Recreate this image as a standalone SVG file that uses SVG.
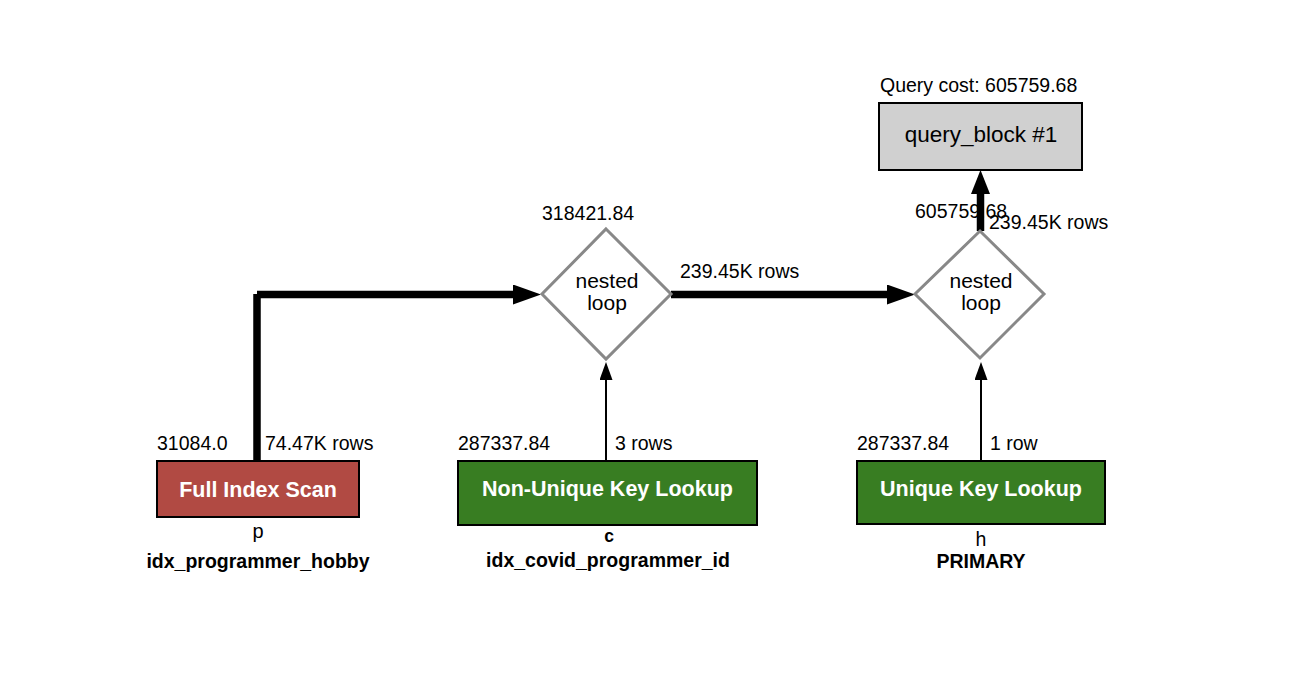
<svg xmlns="http://www.w3.org/2000/svg" width="1292" height="696" viewBox="0 0 1292 696">
<style>
text{font-family:"Liberation Sans",Arial,Helvetica,sans-serif;fill:#000}
.lbl{font-size:19.5px}
.node{font-size:21.5px;font-weight:bold;fill:#fff}
.dia{font-size:21px}
.qb{font-size:22.5px}
.idx{font-size:19.5px;font-weight:bold}
.box{stroke:#000;stroke-width:2}
.diamond{fill:#fff;stroke:#888;stroke-width:3}
.thick{fill:none;stroke:#000;stroke-width:7.5;stroke-linecap:butt}
.thin{fill:none;stroke:#000;stroke-width:2}
</style>
<defs>
<marker id="ah" viewBox="0 0 28 20" refX="0" refY="10" markerWidth="28" markerHeight="20" markerUnits="userSpaceOnUse" orient="auto"><path d="M0,0 L28,10 L0,20 z" fill="#000"/></marker>
<marker id="ahv" viewBox="0 0 24 19" refX="0" refY="9.5" markerWidth="24" markerHeight="19" markerUnits="userSpaceOnUse" orient="auto"><path d="M0,0 L24,9.5 L0,19 z" fill="#000"/></marker>
<marker id="as" viewBox="0 0 18 13" refX="0" refY="6.5" markerWidth="18" markerHeight="13" markerUnits="userSpaceOnUse" orient="auto"><path d="M0,0 L18,6.5 L0,13 z" fill="#000"/></marker>
</defs>
<rect width="1292" height="696" fill="#fff"/>
<g id="connectors">
<path class="thick" d="M257,461 V294 M257,294.5 H513" marker-end="url(#ah)"/>
<path class="thick" d="M671,294.5 H887" marker-end="url(#ah)"/>
<path class="thick" d="M980.5,231 V194" marker-end="url(#ahv)"/>
<path class="thin" d="M606,461 V380" marker-end="url(#as)"/>
<path class="thin" d="M981,461 V380" marker-end="url(#as)"/>
<text class="lbl" x="265" y="450">74.47K rows</text>
<text class="lbl" x="615" y="450">3 rows</text>
<text class="lbl" x="990" y="450">1 row</text>
<text class="lbl" x="680" y="278">239.45K rows</text>
<text class="lbl" x="989" y="229">239.45K rows</text>
</g>
<g id="query_block">
<text class="lbl" x="880" y="92">Query cost: 605759.68</text>
<rect class="box" x="879" y="103" width="203" height="67" fill="#d0d0d0"/>
<text class="qb" x="981" y="142" text-anchor="middle">query_block #1</text>
</g>
<g id="nested_loop_1">
<text class="lbl" x="542" y="220">318421.84</text>
<polygon class="diamond" points="606,229 671,294 606,359 542,294"/>
<text class="dia" x="607" y="288" text-anchor="middle">nested</text>
<text class="dia" x="607" y="310" text-anchor="middle">loop</text>
</g>
<g id="nested_loop_2">
<text class="lbl" x="915" y="218">605759.68</text>
<polygon class="diamond" points="980,231 1044,294 980,358 915,294"/>
<text class="dia" x="981" y="288" text-anchor="middle">nested</text>
<text class="dia" x="981" y="310" text-anchor="middle">loop</text>
</g>
<g id="full_index_scan">
<text class="lbl" x="157" y="450">31084.0</text>
<rect class="box" x="157" y="461" width="202" height="56" fill="#b14a43"/>
<text class="node" x="258" y="497" text-anchor="middle">Full Index Scan</text>
<text class="lbl" x="258" y="538" text-anchor="middle" style="font-size:20px">p</text>
<text class="idx" x="258" y="568" text-anchor="middle">idx_programmer_hobby</text>
</g>
<g id="non_unique_key_lookup">
<text class="lbl" x="458" y="450">287337.84</text>
<rect class="box" x="458" y="461" width="299" height="64" fill="#387d22"/>
<text class="node" x="607.5" y="496" text-anchor="middle">Non-Unique Key Lookup</text>
<text class="lbl" x="609" y="542" text-anchor="middle" style="font-size:17.5px;font-weight:bold">c</text>
<text class="idx" x="608" y="567" text-anchor="middle">idx_covid_programmer_id</text>
</g>
<g id="unique_key_lookup">
<text class="lbl" x="857" y="450">287337.84</text>
<rect class="box" x="857" y="461" width="248" height="63" fill="#387d22"/>
<text class="node" x="981" y="496" text-anchor="middle">Unique Key Lookup</text>
<text class="lbl" x="981" y="546" text-anchor="middle">h</text>
<text class="idx" x="981" y="568" text-anchor="middle">PRIMARY</text>
</g>
</svg>
